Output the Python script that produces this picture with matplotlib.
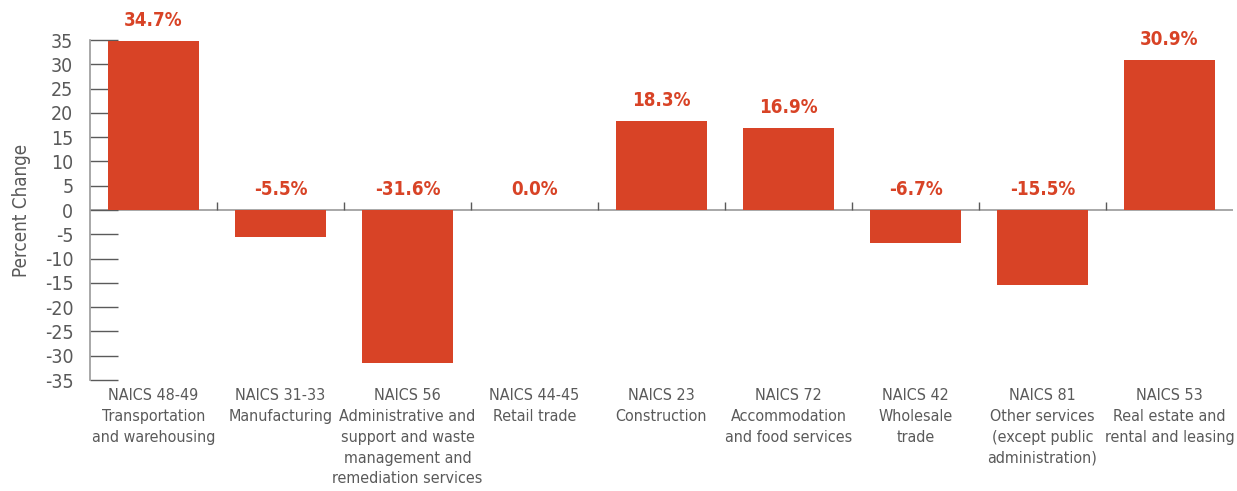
import numpy as np
import matplotlib.pyplot as plt

# Percent change by industry
codes = ["NAICS 48-49", "NAICS 31-33", "NAICS 56", "NAICS 44-45", "NAICS 23",
         "NAICS 72", "NAICS 42", "NAICS 81", "NAICS 53"]
names = ["Transportation\nand warehousing", "Manufacturing",
         "Administrative and\nsupport and waste\nmanagement and\nremediation services",
         "Retail trade", "Construction", "Accommodation\nand food services",
         "Wholesale\ntrade", "Other services\n(except public\nadministration)",
         "Real estate and\nrental and leasing"]
pct_change = [34.7, -5.5, -31.6, 0.0, 18.3, 16.9, -6.7, -15.5, 30.9]
yticks = list(range(-35, 40, 5))

plt.rcParams['font.family'] = ['DejaVu Sans']
plt.rcParams['font.stretch'] = 'condensed'

bar_color = "#d84326"
grey = "#5a5a5a"

fig = plt.figure(figsize=(12.37, 4.91), dpi=100)
ax = fig.add_axes([90 / 1237, 1 - 380 / 491, 1143 / 1237, 340 / 491])

x = np.arange(len(codes))
ax.bar(x, pct_change, width=0.72, color=bar_color, zorder=2)

# zero line with small separators between categories
ax.axhline(0, color="#9a9a9a", lw=1.2, zorder=1)
bounds = np.arange(len(codes) + 1) - 0.5
ax.vlines(bounds[1:-1], 0, 1.7, color=grey, lw=1.0, zorder=1)

for xi, v in zip(x, pct_change):
    base = max(v, 0)
    ax.annotate(f"{v:.1f}%", (xi, base), xytext=(0, 8), textcoords="offset points",
                ha="center", va="bottom", color=bar_color, fontsize=13.5,
                fontweight="bold")

ax.set_xlim(-0.5, len(codes) - 0.5)
ax.set_ylim(-35, 35)
ax.set_yticks(yticks)
ax.set_yticklabels([str(t) for t in yticks])
ax.tick_params(axis='y', direction='in', length=20, width=1.0, color=grey,
               labelcolor=grey, labelsize=14, pad=12)
ax.set_xticks(x)
ax.set_xticklabels([f"{c}\n{n}" for c, n in zip(codes, names)], linespacing=1.48)
ax.tick_params(axis='x', length=0, labelcolor=grey, labelsize=11.5, pad=6)

for s in ["top", "right", "bottom"]:
    ax.spines[s].set_visible(False)
ax.spines["left"].set_color("#9a9a9a")
ax.spines["left"].set_linewidth(1.2)

ax.set_ylabel("Percent Change", color=grey, fontsize=13.5, labelpad=10)

fig.savefig("out.png", dpi=100)
